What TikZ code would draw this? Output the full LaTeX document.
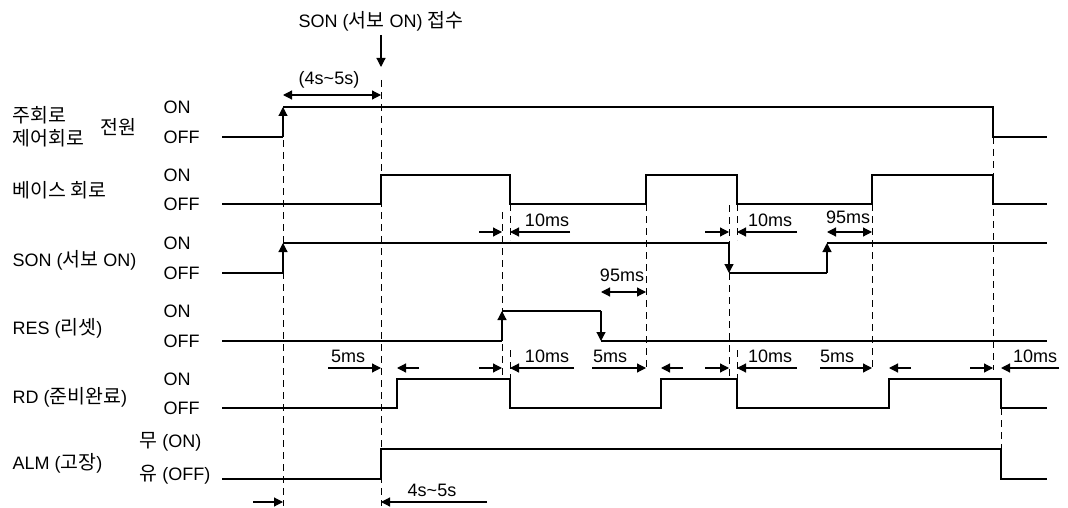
\documentclass[tikz,border=0pt]{standalone}
\usepackage{fontspec}
\setmainfont{Liberation Sans}
\newfontfamily\kr[Scale=1.08]{Noto Sans CJK KR}
\usetikzlibrary{arrows.meta}

\begin{document}
\begin{tikzpicture}[x=1pt, y=-1pt, line width=1.2pt,
  font=\fontsize{18}{20}\selectfont,
  guide/.style={line width=0.9pt, dash pattern=on 7pt off 5pt},
  edgearrow/.style={-{Triangle[length=9pt,width=9pt]}},
  dimboth/.style={{Triangle[length=9pt,width=9pt]}-{Triangle[length=9pt,width=9pt]}},
  lbl/.style={anchor=west, inner sep=0pt},
  dimlabel/.style={inner sep=0pt}]
\useasboundingbox (0,0) rectangle (1068,508);
% ---------------- signal names (left) ----------------
\node[lbl] (main) at (12,115) {{\kr 주회로}};
\node[lbl] (ctrl) at (12,138) {{\kr 제어회로}};
\node[lbl] (pwr)  at (100,127) {{\kr 전원}};
\node[lbl] (base) at (12,190) {{\kr 베이스 회로}};
\node[lbl] (son)  at (12,260) {SON ({\kr 서보} ON)};
\node[lbl] (res)  at (12,328) {RES ({\kr 리셋})};
\node[lbl] (rd)   at (12,397) {RD ({\kr 준비완료})};
\node[lbl] (alm)  at (12,463) {ALM ({\kr 고장})};
\foreach \yon/\yoff in {107/137, 175/204, 243/273, 311/341, 379/408} {
  \node[lbl] (on-\yon) at (163,\yon) {ON};
  \node[lbl] (off-\yoff) at (163,\yoff) {OFF};
}
\node[lbl] (almon)  at (139,442) {{\kr 무} (ON)};
\node[lbl] (almoff) at (139,475) {{\kr 유} (OFF)};
% ---------------- guide lines ----------------
\draw[guide] (283,140) -- (283,506);
\draw[guide] (381,80) -- (381,506);
\draw[guide] (502,212) -- (502,379);
\draw[guide] (510,204) -- (510,240) (510,350) -- (510,379);
\draw[guide] (646,204) -- (646,370);
\draw[guide] (729,205) -- (729,243) (729,273) -- (729,379);
\draw[guide] (737,204) -- (737,240) (737,350) -- (737,379);
\draw[guide] (872,204) -- (872,370);
\draw[guide] (993,137) -- (993,370);
\draw[guide] (1001,408) -- (1001,449);
% ---------------- waveforms ----------------
% power
\draw (222,137) -- (283,137);
\draw[edgearrow] (283,137) -- (283,107);
\draw (283,107) -- (993,107) -- (993,137) -- (1047,137);
% base circuit
\draw (222,204) -- (381,204) -- (381,175) -- (510,175) -- (510,204) -- (646,204)
  -- (646,175) -- (737,175) -- (737,204) -- (872,204) -- (872,175) -- (993,175)
  -- (993,204) -- (1047,204);
% SON
\draw (222,273) -- (283,273);
\draw[edgearrow] (283,273) -- (283,243);
\draw (283,243) -- (729,243);
\draw[edgearrow] (729,243) -- (729,273);
\draw (729,273) -- (827,273);
\draw[edgearrow] (827,273) -- (827,243);
\draw (827,243) -- (1047,243);
% RES
\draw (222,341) -- (502,341);
\draw[edgearrow] (502,341) -- (502,311);
\draw (502,311) -- (601,311);
\draw[edgearrow] (601,311) -- (601,341);
\draw (601,341) -- (1047,341);
% RD
\draw (222,408) -- (397,408) -- (397,379) -- (510,379) -- (510,408) -- (661,408)
  -- (661,379) -- (737,379) -- (737,408) -- (889,408) -- (889,379) -- (1001,379)
  -- (1001,408) -- (1047,408);
% ALM
\draw (222,479) -- (381,479) -- (381,449) -- (1001,449) -- (1001,479) -- (1047,479);
% ---------------- timing marks ----------------
\node (sonrx) at (381,21) {SON ({\kr 서보} ON) {\kr 접수}};
\coordinate (sonpt) at (381,67);
\draw[edgearrow] (sonrx) -- (sonpt);
\node[dimlabel] (t45a) at (329,80) {(4s\textasciitilde5s)};
\draw[dimboth] (283,95) -- (381,95);
% row under base circuit
\draw[edgearrow] (479,232) -- (502,232);
\draw[edgearrow] (570,232) -- (510,232);
\node[dimlabel] (d1) at (547,220) {10ms};
\draw[edgearrow] (705,232) -- (729,232);
\draw[edgearrow] (797,232) -- (737,232);
\node[dimlabel] (d2) at (770,220) {10ms};
\draw[dimboth] (827,232) -- (872,232);
\node[dimlabel] (d3) at (848,217) {95ms};
% RES delay
\draw[dimboth] (601,292) -- (646,292);
\node[dimlabel] (d4) at (622,275) {95ms};
% row over RD
\draw[edgearrow] (328,368) -- (381,368);
\draw[edgearrow] (419,368) -- (397,368);
\node[dimlabel] (d5) at (348,356) {5ms};
\draw[edgearrow] (479,368) -- (502,368);
\draw[edgearrow] (574,368) -- (510,368);
\node[dimlabel] (d6) at (547,356) {10ms};
\draw[edgearrow] (592,368) -- (646,368);
\draw[edgearrow] (683,368) -- (661,368);
\node[dimlabel] (d7) at (610,356) {5ms};
\draw[edgearrow] (705,368) -- (729,368);
\draw[edgearrow] (797,368) -- (737,368);
\node[dimlabel] (d8) at (770,356) {10ms};
\draw[edgearrow] (820,368) -- (872,368);
\draw[edgearrow] (911,368) -- (889,368);
\node[dimlabel] (d9) at (837,356) {5ms};
\draw[edgearrow] (970,368) -- (993,368);
\draw[edgearrow] (1059,368) -- (1001,368);
\node[dimlabel] (d10) at (1035,356) {10ms};
% bottom
\draw[edgearrow] (253,502) -- (283,502);
\draw[edgearrow] (487,502) -- (381,502);
\node[dimlabel] (t45b) at (432,490) {4s\textasciitilde5s};
\end{tikzpicture}
\end{document}
